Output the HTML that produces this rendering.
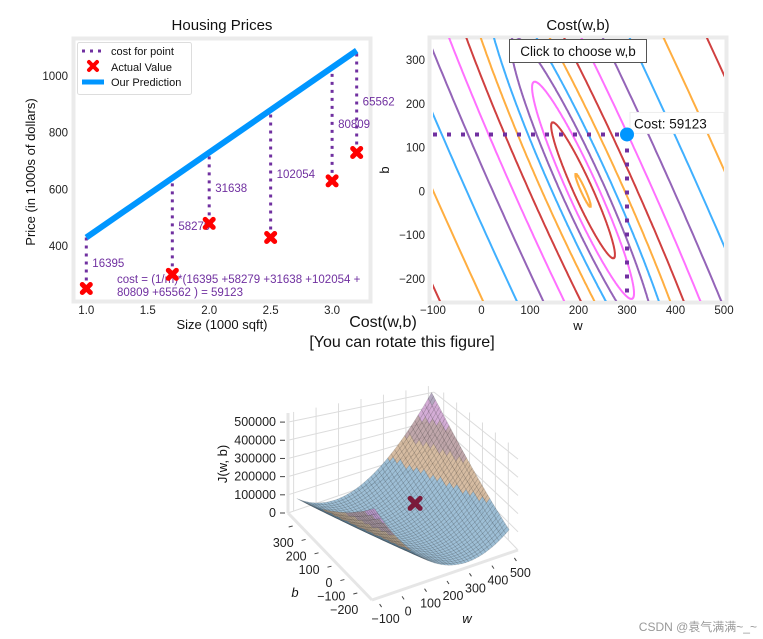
<!DOCTYPE html>
<html><head><meta charset="utf-8"><style>
html,body{margin:0;padding:0;background:#fff;width:763px;height:639px;overflow:hidden;}
svg{display:block;font-family:"Liberation Sans","DejaVu Sans","Noto Sans CJK SC",sans-serif;}
</style></head><body>
<svg id="root" width="763" height="639" viewBox="0 0 763 639" xmlns="http://www.w3.org/2000/svg">
<defs>
<clipPath id="clipL"><rect x="75" y="40" width="294" height="259"/></clipPath>
<clipPath id="clipR"><rect x="433" y="38" width="291" height="263"/></clipPath>
</defs>
<!-- Left chart -->
<g>
<text x="222" y="30" font-size="15" text-anchor="middle" fill="#111">Housing Prices</text>
<rect x="73.5" y="38.5" width="297" height="263" fill="#fff" stroke="#ebebeb" stroke-width="4"/>
<g id="leftPlot" clip-path="url(#clipL)"></g>
<g id="leftTicks" font-size="11.5" fill="#222"></g>
<text x="222" y="329" font-size="13" text-anchor="middle" fill="#111">Size (1000 sqft)</text>
<text transform="translate(35,172) rotate(-90)" font-size="13" text-anchor="middle" fill="#111">Price (in 1000s of dollars)</text>
<g>
<rect x="77.5" y="42.5" width="114" height="52" fill="#fff" stroke="#ddd" stroke-width="1" rx="2"/>
<line x1="82" y1="51" x2="104" y2="51" stroke="#7030A0" stroke-width="3" stroke-dasharray="3,5"/>
<text x="111" y="55" font-size="11" fill="#111">cost for point</text>
<g stroke="#ff0000" stroke-width="4" stroke-linecap="round"><line x1="89" y1="62" x2="97" y2="70"/><line x1="97" y1="62" x2="89" y2="70"/></g>
<text x="111" y="71" font-size="11" fill="#111">Actual Value</text>
<line x1="82" y1="82" x2="104" y2="82" stroke="#0096ff" stroke-width="5"/>
<text x="111" y="86" font-size="11" fill="#111">Our Prediction</text>
</g>
<text font-size="11.5" fill="#7030A0"><tspan x="117" y="283">cost = (1/m)*(16395 +58279 +31638 +102054 +</tspan><tspan x="117" y="296">80809 +65562 ) = 59123</tspan></text>
</g>
<!-- Right chart -->
<g>
<text x="578" y="30" font-size="15" text-anchor="middle" fill="#111">Cost(w,b)</text>
<rect x="429.5" y="37.5" width="297" height="265" fill="#fff" stroke="#ebebeb" stroke-width="4"/>
<g id="rightPlot" clip-path="url(#clipR)"></g>
<g id="rightTicks" font-size="11.5" fill="#222"></g>
<text x="578" y="330" font-size="13" text-anchor="middle" fill="#111">w</text>
<text transform="translate(389,170) rotate(-90)" font-size="13" text-anchor="middle" fill="#111">b</text>
<g>
<rect x="509.5" y="39.5" width="137" height="23" fill="#fff" stroke="#555" stroke-width="1"/>
<text x="578" y="56" font-size="13.5" text-anchor="middle" fill="#111">Click to choose w,b</text>
</g>
</g>
<!-- 3D -->
<g>
<text x="383" y="327" font-size="16" text-anchor="middle" fill="#111">Cost(w,b)</text>
<text x="402" y="347" font-size="16" text-anchor="middle" fill="#111">[You can rotate this figure]</text>
<g id="box3d"></g>
<g id="surf3d"></g>
<g id="ticks3d" font-size="12.5" fill="#222"></g>
<text transform="translate(227,464) rotate(-90)" font-size="13" text-anchor="middle" fill="#111">J(w, b)</text>
<text x="295" y="597" font-size="13" font-style="italic" fill="#111" text-anchor="middle">b</text>
<text x="467" y="623" font-size="13" font-style="italic" fill="#111" text-anchor="middle">w</text>
</g>
<text x="757" y="631" font-size="12" fill="#999" text-anchor="end">CSDN @袁气满满~_~</text>
</svg>
<script>
// ---- data ----
const xTrain = [1.0, 1.7, 2.0, 2.5, 3.0, 3.2];
const yTrain = [250, 300, 480, 430, 630, 730];
const costLabels = ["16395", "58279", "31638", "102054", "80809", "65562"];
const wSel = 300;
const bSel = 130;
const costText = "Cost: 59123";
const xTicksL = [1.0, 1.5, 2.0, 2.5, 3.0];
const yTicksL = [400, 600, 800, 1000];
const wTicks = [-100, 0, 100, 200, 300, 400, 500];
const bTicks = [-200, -100, 0, 100, 200, 300];
const logLevels = [7.0, 7.5, 8.0, 8.5, 9.0, 9.5, 10.0, 10.5, 11.0, 11.5, 12.0, 12.5, 13.0, 13.5, 14.0];
const levelColors = ["#0096ff", "#FF9300", "#C00000", "#FF40FF", "#7030A0"];
const zTicks = [0, 100000, 200000, 300000, 400000, 500000];

const NS = "http://www.w3.org/2000/svg";
function mk(tag, attrs, parent) { const e = document.createElementNS(NS, tag); for (const k in attrs) e.setAttribute(k, attrs[k]); if (parent) parent.appendChild(e); return e; }
const root = document.getElementById('root');

// ---- left chart ----
const sxL = x => 86.3 + (x - 1.0) * 122.9;
const syL = y => 246 - (y - 400) * 0.2833;
const lp = document.getElementById('leftPlot');
const lt = document.getElementById('leftTicks');
xTicksL.forEach(t => { const e = mk('text', {x: sxL(t), y: 314, 'text-anchor': 'middle'}, lt); e.textContent = t.toFixed(1);
    });
yTicksL.forEach(t => { const e = mk('text', {x: 68, y: syL(t) + 4, 'text-anchor': 'end'}, lt); e.textContent = t;
    });
const pred = x => wSel * x + bSel;
xTrain.forEach((x, i) => {
  const l = mk('line', {x1: sxL(x), y1: syL(yTrain[i]), x2: sxL(x), y2: syL(pred(x)), stroke: '#7030A0', 'stroke-width': 3, 'stroke-dasharray': '3,5'}, lp);
  
  
});
const xmin = Math.min(...xTrain), xmax = Math.max(...xTrain);
const pl = mk('line', {x1: sxL(xmin), y1: syL(pred(xmin)), x2: sxL(xmax), y2: syL(pred(xmax)), stroke: '#0096ff', 'stroke-width': 6}, lp);


xTrain.forEach((x, i) => {
  const px = sxL(x), py = syL(yTrain[i]);
  const g = mk('g', {stroke: '#ff0000', 'stroke-width': 5, 'stroke-linecap': 'round'}, root);
  
  
  mk('line', {x1: px - 4, y1: py - 4, x2: px + 4, y2: py + 4}, g);
  mk('line', {x1: px + 4, y1: py - 4, x2: px - 4, y2: py + 4}, g);
  const c = mk('text', {x: px + 6, y: syL((yTrain[i] + pred(x)) / 2) + 4, 'font-size': 11.5, fill: '#7030A0'}, root);
  c.textContent = costLabels[i];
  
  
});

// ---- cost function ----
const m = xTrain.length;
function J(w, b) { let s = 0; for (let i = 0; i < m; i++) { const r = w * xTrain[i] + b - yTrain[i]; s += r * r; } return s / (2 * m); }
let Sx = 0, Sxx = 0, Sy = 0, Sxy = 0;
for (let i = 0; i < m; i++) { Sx += xTrain[i]; Sxx += xTrain[i] ** 2; Sy += yTrain[i]; Sxy += xTrain[i] * yTrain[i]; }
const det = Sxx * m - Sx * Sx;
const w0 = (Sxy * m - Sx * Sy) / det, b0 = (Sxx * Sy - Sx * Sxy) / det;
const Jmin = J(w0, b0);

// ---- right chart (contours) ----
const sxR = w => 433 + (w + 100) * 0.485;
const syR = b => 191.4 - b * 0.438;
const rp = document.getElementById('rightPlot');
const rt = document.getElementById('rightTicks');
wTicks.forEach(t => { const e = mk('text', {x: sxR(t), y: 314, 'text-anchor': 'middle'}, rt); e.textContent = t < 0 ? '\u2212' + (-t) : t;
    });
bTicks.forEach(t => { const e = mk('text', {x: 425, y: syR(t) + 4, 'text-anchor': 'end'}, rt); e.textContent = t < 0 ? '\u2212' + (-t) : t;
    });
const tr = Sxx + m, disc = Math.sqrt(tr * tr / 4 - det);
const l1 = tr / 2 + disc, l2 = tr / 2 - disc;
let e1 = [Sx, l1 - Sxx]; let n1 = Math.hypot(...e1); e1 = [e1[0] / n1, e1[1] / n1];
const e2 = [-e1[1], e1[0]];
logLevels.forEach((lv, i) => {
  const L = Math.exp(lv); if (L <= Jmin) return;
  const k = 2 * m * (L - Jmin);
  const a1 = Math.sqrt(k / l1), a2 = Math.sqrt(k / l2);
  let d = '';
  for (let j = 0; j <= 720; j++) {
    const t = j / 720 * 2 * Math.PI;
    const w = w0 + a1 * Math.cos(t) * e1[0] + a2 * Math.sin(t) * e2[0];
    const b = b0 + a1 * Math.cos(t) * e1[1] + a2 * Math.sin(t) * e2[1];
    d += (j ? 'L' : 'M') + sxR(w).toFixed(1) + ',' + syR(b).toFixed(1);
  }
  const p = mk('path', {d: d, fill: 'none', stroke: levelColors[i % levelColors.length], 'stroke-width': 2, 'stroke-opacity': 0.75}, rp);
  
  
});
const hl = mk('line', {x1: sxR(-100), y1: syR(bSel), x2: sxR(wSel), y2: syR(bSel), stroke: '#7030A0', 'stroke-width': 4, 'stroke-dasharray': '4,10'}, rp);


const vl = mk('line', {x1: sxR(wSel), y1: syR(bSel), x2: sxR(wSel), y2: syR(-250), stroke: '#7030A0', 'stroke-width': 4, 'stroke-dasharray': '4,10'}, rp);


const cb = mk('rect', {x: sxR(wSel) + 3, y: syR(bSel) - 22, width: 94, height: 21, fill: '#fff', stroke: '#eee'}, root);


const ct = mk('text', {x: sxR(wSel) + 7, y: syR(bSel) - 6, 'font-size': 13.5, fill: '#111'}, root);
ct.textContent = costText;


const dot = mk('circle', {cx: sxR(wSel), cy: syR(bSel), r: 7, fill: '#0096ff'}, root);



// ---- 3D surface ----
const WLO = -125, WHI = 525, BLO = -275, BHI = 375, ZMAX = 550000;
const F = [372, 600], R = [518, 550], Lc = [288, 513];
function P(w, b, z) {
  const wn = (w - WLO) / (WHI - WLO), bn = (b - BLO) / (BHI - BLO);
  const H = 100 - 22 * wn * bn;
  return [F[0] + wn * (R[0] - F[0]) + bn * (Lc[0] - F[0]), F[1] + wn * (R[1] - F[1]) + bn * (Lc[1] - F[1]) - z / ZMAX * H];
}
const box = document.getElementById('box3d');
function ln(a, b, col, wd, name) { const l = mk('line', {x1: a[0], y1: a[1], x2: b[0], y2: b[1], stroke: col, 'stroke-width': wd}, box);
    }
wTicks.forEach(t => ln(P(t, BHI, 0), P(t, BHI, ZMAX), '#dcdcdc', 1, 'grid-line'));
bTicks.forEach(t => ln(P(WHI, t, 0), P(WHI, t, ZMAX), '#dcdcdc', 1, 'grid-line'));
zTicks.forEach(t => { ln(P(WLO, BHI, t), P(WHI, BHI, t), '#dcdcdc', 1, 'grid-line'); ln(P(WHI, BHI, t), P(WHI, BLO, t), '#dcdcdc', 1, 'grid-line'); });
ln(P(WLO, BHI, 0), P(WLO, BHI, ZMAX), '#e6e6e6', 3, 'z-axis-line');
ln(P(WLO, BHI, 0), P(WLO, BLO, 0), '#e6e6e6', 3, 'b-axis-line');
ln(P(WLO, BLO, 0), P(WHI, BLO, 0), '#e6e6e6', 3, 'w-axis-line');
wTicks.forEach(t => { const a = P(t, BLO, 0); ln([a[0] + 2, a[1] + 6], [a[0] + 4, a[1] + 9], '#444', 1, 'w-tick'); });
bTicks.forEach(t => { const a = P(WLO, t, 0); ln([a[0] - 5, a[1] + 3], [a[0] - 9, a[1] + 4], '#444', 1, 'b-tick'); });
zTicks.forEach(t => { const a = P(WLO, BHI, t); ln([a[0] - 3, a[1]], [a[0] - 8, a[1]], '#444', 1, 'z-tick'); });
const tk = document.getElementById('ticks3d');
zTicks.forEach(t => { const a = P(WLO, BHI, t); const e = mk('text', {x: a[0] - 12, y: a[1] + 4, 'text-anchor': 'end'}, tk); e.textContent = t;
    });
bTicks.forEach(t => { const a = P(WLO, t, 0); const e = mk('text', {x: a[0] - 4, y: a[1] + 24, 'text-anchor': 'end'}, tk); e.textContent = t < 0 ? '\u2212' + (-t) : t;
    });
wTicks.forEach(t => { const a = P(t, BLO, 0); const e = mk('text', {x: a[0] + 8, y: a[1] + 25, 'text-anchor': 'middle'}, tk); e.textContent = t < 0 ? '\u2212' + (-t) : t;
    });

const surf = document.getElementById('surf3d');
const N = 40;
const quads = [];
const bandCol = z => z < 165000 ? '#78a6c6' : z < 275000 ? '#c6a27e' : z < 385000 ? '#a8858a' : z < 475000 ? '#c48ec6' : '#9585a6';
for (let i = 0; i < N; i++) for (let j = 0; j < N; j++) {
  const wa = -100 + 600 * i / N, wb = -100 + 600 * (i + 1) / N, ba = -250 + 600 * j / N, bb = -250 + 600 * (j + 1) / N;
  const pts = [[wa, ba], [wb, ba], [wb, bb], [wa, bb]].map(p => [p[0], p[1], J(p[0], p[1])]);
  const zc = (pts[0][2] + pts[1][2] + pts[2][2] + pts[3][2]) / 4;
  const wn = ((wa + wb) / 2 + 100) / 600, bn = ((ba + bb) / 2 + 250) / 600;
  const far = 0.866 * (0.5 * wn + 0.866 * bn) - 0.5 * zc / ZMAX;
  quads.push({pts, zc, far});
}
quads.sort((a, b) => b.far - a.far);
quads.forEach(q => {
  const d = q.pts.map((p, k) => { const s = P(p[0], p[1], p[2]); return (k ? 'L' : 'M') + s[0].toFixed(1) + ',' + s[1].toFixed(1); }).join('') + 'Z';
  const p = mk('path', {d: d, fill: bandCol(q.zc), 'fill-opacity': 0.72, stroke: '#000', 'stroke-opacity': 0.16, 'stroke-width': 0.6}, surf);
  
  
});
const cp = P(wSel, bSel, J(wSel, bSel));
const cx = mk('g', {stroke: '#7a1a3a', 'stroke-width': 5, 'stroke-linecap': 'round'}, surf);


mk('line', {x1: cp[0] - 5, y1: cp[1] - 5, x2: cp[0] + 5, y2: cp[1] + 5}, cx);
mk('line', {x1: cp[0] + 5, y1: cp[1] - 5, x2: cp[0] - 5, y2: cp[1] + 5}, cx);
</script>
</body></html>
